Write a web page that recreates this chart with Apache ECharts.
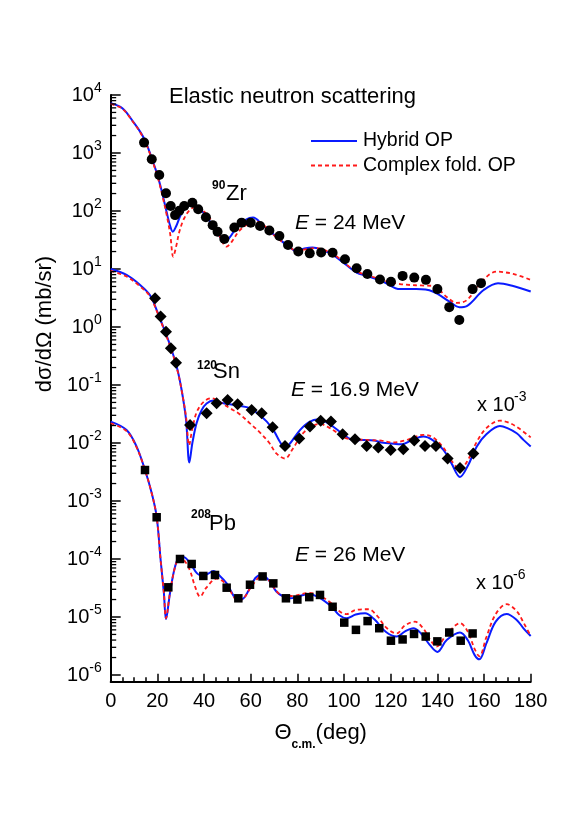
<!DOCTYPE html>
<html><head><meta charset="utf-8">
<script src="https://cdn.jsdelivr.net/npm/echarts@6/dist/echarts.min.js"></script>
<style>html,body{margin:0;padding:0;background:#fff}#c{width:577px;height:817px}</style>
</head><body><div id="c"></div>
<script>
// ---------- 90Zr, E = 24 MeV ----------
const zrHybAng = [0,5,10,13,15,17,20,22,24,25.5,26.6,28,30,32,34.7,38,41,44,47,48.7,51,54,58,61,65,70,75.4,79.7,83,86.5,91,95.4,101,105.4,109.7,116.8,124,131,138,145.4,149.4,152.6,159.7,166,172.5,180];
const zrHyb    = [7200,5900,3300,2200,1550,950,420,210,95,55,44,54,85,112,127,112,80,54,35,29,35,52,71,77,58,39,26,20.5,22.5,23.5,21,17.4,11.7,8.7,7.6,6.0,4.5,4.5,4.1,2.7,2.2,2.3,4.3,5.7,5.1,4.1];
const zrCfAng  = [0,5,10,13,15,17,20,22,24,25.5,26.8,28,29.5,31.5,34,36.8,40,43,46,49.7,52,55,59,62.6,66,70,75,80,84,88,92,96,101,105,110,115,119,124,128.3,133,138.3,144,148.3,152.6,159.7,165.4,172.5,180];
const zrCf     = [7000,5800,3250,2150,1500,920,400,195,85,40,16.3,24,45,75,105,119,98,70,42,24.3,30,45,60,65.5,55,38,27,20.5,22,23,21,17.5,12,9.2,7.8,6.8,6.0,5.5,5.3,5.2,5.1,3.3,2.6,2.9,6.5,9.0,8.2,6.5];
const zrExpAng = [14.3,17.6,20.8,23.7,25.7,27.6,29.4,31.5,35,37.5,40.8,43.7,45.8,48.7,53,56.1,60,64,68,72.3,76,80.4,85.3,90.2,95.1,100.4,105.4,110,115.4,120.1,125.1,130.1,135.1,140,145.1,149.4,155.1,158.7];
const zrExp    = [1510,778,418,202,122,85,101,122,139,107,78,57,44,33,52,63,63,55,46,37,26,20,18.6,19.3,19,14.7,10.3,8.2,6.6,6.0,7.6,7.1,6.5,4.5,2.2,1.32,4.5,5.7];

// ---------- 120Sn, E = 16.9 MeV (x 10^-3) ----------
const snHybAng = [0,6.8,12.6,16.8,19.7,22.5,25.4,28.3,30.4,32.3,33.7,35,36.8,39,41.1,44,47,50,55,59.7,63,66.9,70,72.5,74.7,77,81.1,85,89,92,95.4,99,102.6,106,109.7,113,116.8,120,124.7,129,134,138,142.6,146,149.7,153,156.9,161,166.8,170,174,177,180];
const snHyb    = [10,7.9,5.3,3.56,1.96,1.01,0.49,0.207,0.082,0.025,0.0046,0.01,0.022,0.037,0.048,0.054,0.05,0.047,0.044,0.040,0.032,0.0234,0.016,0.0105,0.0081,0.01,0.0167,0.023,0.0256,0.0234,0.0191,0.0148,0.0117,0.0112,0.0113,0.011,0.0101,0.0098,0.0095,0.0112,0.0129,0.0112,0.0076,0.0045,0.0026,0.004,0.0087,0.0141,0.0196,0.018,0.0147,0.0112,0.0087];
const snCfAng  = [0,6.8,12.6,16.8,19.7,22.5,25.4,28.3,30.4,32.3,33.6,35,37,40,43.3,47,51,55,59.7,64,68,71,74.7,78,82,86,89.7,93,97,101,106,111,116,121,126,130,134,138,142.6,146,149.7,153,157,161,166.8,170,174,180];
const snCf     = [9.3,7.4,5.0,3.4,1.9,0.98,0.47,0.2,0.081,0.028,0.0092,0.0178,0.035,0.052,0.059,0.05,0.04,0.032,0.0218,0.0151,0.01,0.0066,0.0054,0.0079,0.0141,0.019,0.0213,0.019,0.0151,0.012,0.0115,0.0112,0.011,0.0102,0.011,0.0126,0.0138,0.0126,0.0083,0.005,0.0035,0.005,0.0107,0.018,0.0243,0.0229,0.019,0.0125];
const snExpAng = [19,21.4,23.7,25.8,28,34,41.1,45.4,50.1,54.4,60.4,64.7,69.4,74.7,80.8,85.4,90,94.4,99.4,104.7,109.7,114.7,120,125.4,130.1,134.7,139.4,144.4,149.7,155.4];
const snExp    = [3.12,1.51,0.83,0.43,0.243,0.0204,0.0325,0.0483,0.055,0.0464,0.037,0.0325,0.0187,0.0089,0.0119,0.0192,0.0243,0.0234,0.0141,0.0116,0.0089,0.0084,0.0076,0.0078,0.011,0.0089,0.0089,0.0054,0.0037,0.0066];

// ---------- 208Pb, E = 26 MeV (x 10^-6) ----------
const pbHybAng = [0,6.8,11.1,14.7,17.6,19.7,21.4,22.8,23.7,25.4,27.6,29.7,32,34,38.3,41,44,47,49.7,52,54,56,59,62,64.7,68,71,74,77,80,84.7,89,94.7,98,101.1,105,109,113,118,122.6,126,129.7,133,137,140,144,149.7,153,156,158,161,165,169.7,174,177,180];
const pbHyb    = [0.0233,0.0167,0.00865,0.00342,0.00136,0.000536,9.6e-5,2.57e-5,9.1e-6,2.57e-5,7.4e-5,1.1e-4,1.05e-4,8.5e-5,5.3e-5,5.4e-5,6.2e-5,5.0e-5,3.8e-5,2.6e-5,2.0e-5,2.0e-5,2.8e-5,4.7e-5,5.3e-5,4.2e-5,2.75e-5,2.24e-5,2.1e-5,2.24e-5,2.5e-5,2.2e-5,1.5e-5,1.07e-5,9.5e-6,1.1e-5,1.16e-5,9.1e-6,5.5e-6,4.6e-6,5.6e-6,6.4e-6,5.2e-6,3.2e-6,2.5e-6,4.0e-6,5.4e-6,4.0e-6,2.2e-6,1.86e-6,3.5e-6,8.3e-6,1.13e-5,8.9e-6,6.3e-6,4.7e-6];
const pbCfAng  = [0,6.8,11.1,14.7,17.6,19.7,21.4,22.8,23.7,25.4,27.6,29.7,32,34,36,38.3,41,45.4,49.7,52,54.5,57,60,64.7,68,71,74,78,84.7,89,94.7,98,101,105,110.4,114,118,122.6,126,130.4,134,137,139.7,144,149.7,153,156,158,161,165,169.7,174,177,180];
const pbCf     = [0.0219,0.016,0.0084,0.0034,0.00135,0.00053,9.5e-5,2.6e-5,9.5e-6,2.6e-5,7.3e-5,1.07e-4,8.9e-5,6.3e-5,3.5e-5,2.24e-5,3.2e-5,4.6e-5,3.6e-5,2.5e-5,1.9e-5,2.1e-5,3.2e-5,5.0e-5,4.2e-5,2.8e-5,2.3e-5,2.3e-5,2.6e-5,2.4e-5,1.7e-5,1.26e-5,1.12e-5,1.32e-5,1.36e-5,1.07e-5,6.6e-6,5.2e-6,7.1e-6,8.3e-6,6.3e-6,4.0e-6,3.1e-6,5.0e-6,7.8e-6,5.6e-6,2.8e-6,2.1e-6,4.5e-6,1.12e-5,1.66e-5,1.26e-5,7.9e-6,4.7e-6];
const pbExpAng = [14.7,19.7,24.7,29.7,34.7,39.7,44.7,49.7,54.7,59.7,65.1,69.7,75.1,80,85.1,89.7,95.1,100.1,105.1,110.1,115.1,120.1,125.1,130,135,140,145.1,150,155.1];
const pbExp    = [0.00342,0.000524,3.25e-5,1.0e-4,8.2e-5,5.1e-5,5.3e-5,3.2e-5,2.1e-5,3.6e-5,5.0e-5,3.8e-5,2.1e-5,2.0e-5,2.2e-5,2.4e-5,1.5e-5,8.0e-6,6.0e-6,8.5e-6,6.4e-6,3.9e-6,4.1e-6,5.1e-6,4.6e-6,3.8e-6,5.4e-6,3.9e-6,5.2e-6];

// axis ticks
const xTickValues = [0,20,40,60,80,100,120,140,160,180];
const yDecades = [-6,-5,-4,-3,-2,-1,0,1,2,3,4];
const legendNames = ['Hybrid OP', 'Complex fold. OP'];

const FONT = '"Liberation Sans", Arial, Helvetica, sans-serif';
const BLUE = '#0a1bff', RED = '#ff1a1a';
const zip = (a, b) => a.map((x, i) => [x, b[i]]);
const yMajorVals = yDecades.map(d => Math.pow(10, d));

// minor ticks of the log axis (2..9 x 10^d)
const minorTickVals = [];
yDecades.slice(0, -1).forEach(d => { for (let k = 2; k <= 9; k++) minorTickVals.push([0, k * Math.pow(10, d)]); });

const hyb = (data) => ({ name: legendNames[0], type: 'line', data, smooth: 0.35, symbol: 'none',
  lineStyle: { color: BLUE, width: 2 }, itemStyle: { color: BLUE }, z: 3 });
const cf = (data) => ({ name: legendNames[1], type: 'line', data, smooth: 0.35, symbol: 'none',
  lineStyle: { color: RED, width: 1.8, type: [4, 3] }, itemStyle: { color: RED }, z: 4 });
const exp = (data, symbol, size) => ({ name: 'exp', type: 'scatter', data, symbol, symbolSize: size,
  itemStyle: { color: '#000', opacity: 1 }, z: 5, silent: true });

const txt = (x, y, text, size, extra) => ({ type: 'text', x, y, silent: true,
  style: Object.assign({ text, fontSize: size, fontFamily: FONT, fill: '#000', verticalAlign: 'middle' }, extra || {}) });
const eTxt = (x, y, rest) => txt(x, y, '{i|E}' + rest, 21, { rich: { i: { fontStyle: 'italic', fontSize: 21, fontFamily: FONT, fill: '#000' } } });

const chart = echarts.init(document.getElementById('c'), null, { renderer: 'canvas' });
chart.setOption({
  animation: false,
  backgroundColor: '#fff',
  textStyle: { fontFamily: FONT, color: '#000' },
  grid: { left: 110.7, right: 46.3, top: 95, bottom: 135.3, outerBoundsMode: 'none' },
  xAxis: {
    type: 'value', min: 0, max: 180, interval: 20,
    axisLine: { lineStyle: { color: '#000', width: 2 } },
    axisTick: { inside: true, length: 8, lineStyle: { color: '#000', width: 1.5 } },
    minorTick: { show: true, splitNumber: 4, length: 4.5, lineStyle: { color: '#000', width: 1.5 } },
    splitLine: { show: false },
    axisLabel: { fontSize: 20, color: '#000', margin: 10, fontFamily: FONT,
      formatter: v => xTickValues.indexOf(v) >= 0 ? String(v) : '' },
    name: '{t|Θ}{s|c.m.}{t|(deg)}', nameLocation: 'middle', nameGap: 33,
    nameTextStyle: { color: '#000', fontFamily: FONT, rich: {
      t: { fontSize: 22, fontFamily: FONT, color: '#000' },
      s: { fontSize: 12, fontWeight: 'bold', fontFamily: FONT, color: '#000', padding: [24, 0, 0, 0] } } }
  },
  yAxis: {
    type: 'log', logBase: 10, min: 7.66e-7, max: 1e4,
    axisLine: { lineStyle: { color: '#000', width: 2 } },
    axisTick: { inside: true, length: 10, customValues: yMajorVals, lineStyle: { color: '#000', width: 1.5 } },
    splitLine: { show: false },
    axisLabel: { margin: 9, color: '#000', fontFamily: FONT, customValues: yMajorVals,
      formatter: v => '{b|10}{s|' + Math.round(Math.log10(v)) + '}',
      rich: { b: { fontSize: 20, fontFamily: FONT, color: '#000' },
              s: { fontSize: 14, fontFamily: FONT, color: '#000', padding: [0, 0, 13, 0] } } }
  },
  graphic: [
    { type: 'text', x: 45, y: 324, rotation: Math.PI / 2, silent: true,
      style: { text: 'dσ/dΩ (mb/sr)', fontSize: 22, fontFamily: FONT, fill: '#000', align: 'center', verticalAlign: 'middle' } },
    txt(169, 97, 'Elastic neutron scattering', 22),
    // legend
    { type: 'line', silent: true, shape: { x1: 311, y1: 141, x2: 357, y2: 141 }, style: { stroke: BLUE, lineWidth: 2 } },
    txt(363, 141, legendNames[0], 19.5),
    { type: 'line', silent: true, shape: { x1: 311, y1: 165.5, x2: 357, y2: 165.5 }, style: { stroke: RED, lineWidth: 1.8, lineDash: [4, 3] } },
    txt(363, 165.5, legendNames[1], 19.5),
    // labels
    txt(212, 186, '90', 12, { fontWeight: 'bold' }),
    txt(226, 194, 'Zr', 22),
    eTxt(295, 223, ' = 24 MeV'),
    txt(197, 366, '120', 12, { fontWeight: 'bold' }),
    txt(213, 372, 'Sn', 22),
    eTxt(291, 390, ' = 16.9 MeV'),
    txt(477, 405, 'x 10', 20),
    txt(514, 397, '-3', 14),
    txt(191, 515, '208', 12, { fontWeight: 'bold' }),
    txt(209, 524, 'Pb', 22),
    eTxt(295, 555, ' = 26 MeV'),
    txt(476, 583, 'x 10', 20),
    txt(513, 575, '-6', 14)
  ],
  series: [
    { type: 'custom', name: 'minor', coordinateSystem: 'cartesian2d', silent: true, clip: false, z: 6,
      data: minorTickVals,
      renderItem: (params, api) => {
        const p = api.coord([0, api.value(1)]);
        return { type: 'line', shape: { x1: p[0], y1: p[1], x2: p[0] + 5.5, y2: p[1] },
                 style: { stroke: '#000', lineWidth: 1.3 } };
      } },
    hyb(zip(zrHybAng, zrHyb)), cf(zip(zrCfAng, zrCf)),
    hyb(zip(snHybAng, snHyb)), cf(zip(snCfAng, snCf)),
    hyb(zip(pbHybAng, pbHyb)), cf(zip(pbCfAng, pbCf)),
    exp(zip(zrExpAng, zrExp), 'circle', 10),
    exp(zip(snExpAng, snExp), 'diamond', 12),
    exp(zip(pbExpAng, pbExp), 'rect', 8.5)
  ]
});
</script></body></html>
